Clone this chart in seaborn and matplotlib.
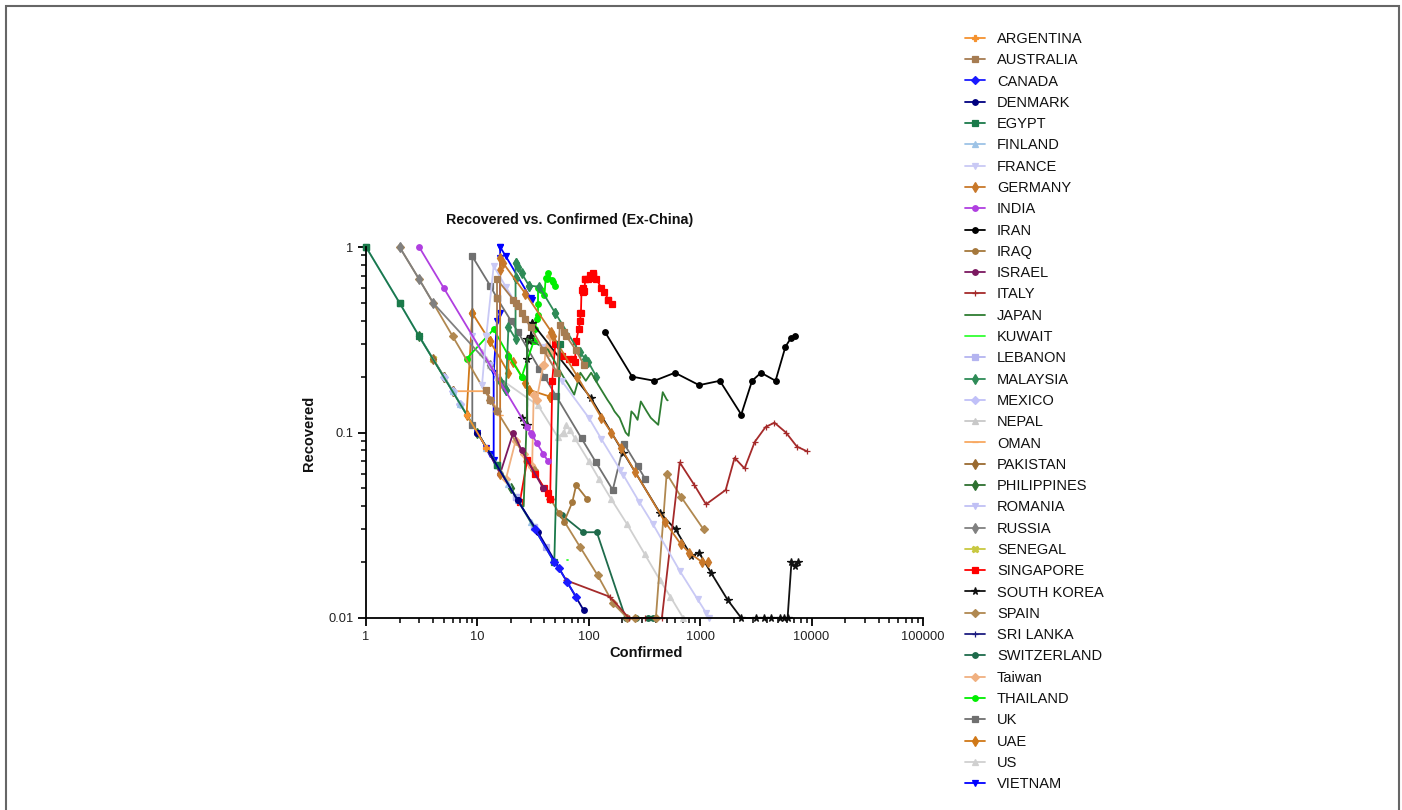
import numpy as np
import pandas as pd
import matplotlib
matplotlib.use("Agg")
import matplotlib.pyplot as plt
import seaborn as sns
from matplotlib.lines import Line2D
from matplotlib.patches import Rectangle
from matplotlib.ticker import FixedLocator, FixedFormatter, LogLocator, NullFormatter

# ---------------- data (Confirmed, Recovered ratio) ----------------
argentina_conf = [8, 12]
argentina_rec = [0.125, 0.083]
australia_conf = [12, 13, 15, 15, 15, 21, 22, 23, 25, 27, 30, 39, 52, 55, 60, 63, 76, 91]
australia_rec = [0.17, 0.15, 0.13, 0.53, 0.67, 0.52, 0.5, 0.48, 0.44, 0.41, 0.37, 0.28, 0.21, 0.38, 0.35, 0.33, 0.28, 0.23]
canada_conf = [33, 49, 54, 64, 77]
canada_rec = [0.03, 0.02, 0.0185, 0.0156, 0.013]
denmark_conf = [10, 10, 23, 23, 35, 90]
denmark_rec = [0.1, 0.1, 0.043, 0.043, 0.029, 0.011]
egypt_conf = [1, 1, 2, 2, 3, 15, 15, 49, 55]
egypt_rec = [1, 1, 0.5, 0.5, 0.33, 0.067, 0.067, 0.02, 0.3]
finland_conf = [1, 2, 3, 6, 7, 12, 15, 19, 23, 30]
finland_rec = [1, 0.5, 0.33, 0.167, 0.143, 0.083, 0.067, 0.053, 0.043, 0.033]
france_conf = [11, 12, 12, 12, 14, 18, 38, 57, 100, 130, 191, 204, 285, 377, 653, 949, 1126, 1209]
france_rec = [0.18, 0.33, 0.33, 0.33, 0.79, 0.61, 0.29, 0.19, 0.12, 0.092, 0.063, 0.059, 0.042, 0.032, 0.018, 0.0126, 0.0107, 0.0099]
germany_conf = [16, 16, 16, 17, 27, 46, 48, 79, 130, 159, 196, 262, 482, 670, 799, 1040, 1176]
germany_rec = [0.06, 0.75, 0.875, 0.82, 0.56, 0.35, 0.33, 0.2, 0.12, 0.1, 0.082, 0.061, 0.033, 0.025, 0.0225, 0.02, 0.02]
india_conf = [3, 5, 28, 30, 31, 34, 39, 43]
india_rec = [1, 0.6, 0.107, 0.1, 0.097, 0.088, 0.077, 0.07]
iran_conf = [139, 245, 388, 593, 978, 1501, 2336, 2922, 3513, 4747, 5823, 6566, 7161]
iran_rec = [0.35, 0.2, 0.19, 0.21, 0.18, 0.19, 0.125, 0.19, 0.21, 0.19, 0.29, 0.325, 0.33]
iraq_conf = [54, 60, 71, 77, 96]
iraq_rec = [0.037, 0.033, 0.042, 0.052, 0.044]
israel_conf = [10, 12, 16, 21, 25, 39, 39]
israel_rec = [0.1, 0.083, 0.06, 0.1, 0.08, 0.05, 0.05]
italy_conf = [62, 155, 229, 322, 453, 655, 888, 1128, 1694, 2036, 2502, 3089, 3858, 4636, 5883, 7375, 9172]
italy_rec = [0.016, 0.013, 0.0044, 0.0031, 0.0066, 0.069, 0.052, 0.041, 0.049, 0.073, 0.064, 0.089, 0.107, 0.113, 0.1, 0.084, 0.079]
japan_conf = [20, 22, 25, 25, 26, 28, 28, 43, 59, 66, 74, 84, 94, 105, 122, 147, 159, 170, 189, 214, 228, 241, 256, 274, 293, 331, 360, 420, 461, 502, 511]
japan_rec = [0.05, 0.045, 0.04, 0.04, 0.04, 0.14, 0.32, 0.28, 0.2, 0.18, 0.16, 0.21, 0.19, 0.21, 0.18, 0.15, 0.14, 0.13, 0.12, 0.1, 0.096, 0.13, 0.125, 0.117, 0.147, 0.13, 0.12, 0.11, 0.165, 0.15, 0.149]
kuwait_conf = [64, 65]
kuwait_rec = [0.0205, 0.0205]
lebanon_conf = [22, 22, 32, 32, 41]
lebanon_rec = [0.045, 0.045, 0.031, 0.031, 0.024]
malaysia_conf = [16, 18, 18, 19, 22, 22, 22, 22, 22, 23, 25, 29, 29, 36, 50, 50, 83, 93, 99, 117]
malaysia_rec = [0.19, 0.17, 0.17, 0.37, 0.32, 0.68, 0.68, 0.82, 0.82, 0.78, 0.72, 0.62, 0.62, 0.61, 0.44, 0.44, 0.27, 0.25, 0.24, 0.2]
mexico_conf = [5, 6, 7, 7]
mexico_rec = [0.2, 0.167, 0.143, 0.143]
nepal_conf = [1, 1]
nepal_rec = [1, 1]
oman_conf = [6, 6, 12, 15, 16, 16]
oman_rec = [0.167, 0.167, 0.167, 0.133, 0.125, 0.125]
pakistan_conf = [4, 5, 6, 6]
pakistan_rec = [0.25, 0.2, 0.167, 0.167]
philippines_conf = [3, 5, 10, 20]
philippines_rec = [0.33, 0.2, 0.1, 0.05]
romania_conf = [9, 13, 15, 15]
romania_rec = [0.33, 0.23, 0.2, 0.2]
russia_conf = [2, 3, 4, 13, 17, 17]
russia_rec = [1, 0.67, 0.5, 0.23, 0.18, 0.18]
senegal_conf = [4, 4]
senegal_rec = [0.25, 0.25]
singapore_conf = [24, 28, 33, 40, 43, 45, 47, 50, 58, 67, 72, 75, 77, 81, 84, 84, 85, 86, 89, 89, 91, 93, 93, 98, 102, 106, 108, 110, 110, 117, 130, 138, 150, 150, 160]
singapore_rec = [0.042, 0.071, 0.06, 0.05, 0.047, 0.044, 0.19, 0.3, 0.26, 0.25, 0.25, 0.24, 0.31, 0.36, 0.4, 0.44, 0.44, 0.59, 0.57, 0.6, 0.58, 0.67, 0.67, 0.67, 0.71, 0.68, 0.72, 0.71, 0.71, 0.67, 0.6, 0.57, 0.52, 0.52, 0.49]
skorea_conf = [25, 27, 28, 28, 28, 29, 30, 31, 31, 104, 204, 433, 602, 833, 977, 1261, 1766, 2337, 3150, 3736, 4335, 5186, 5621, 6088, 6593, 7041, 7478]
skorea_rec = [0.12, 0.11, 0.11, 0.25, 0.32, 0.31, 0.33, 0.39, 0.39, 0.154, 0.078, 0.037, 0.03, 0.0216, 0.0225, 0.0174, 0.0125, 0.0094, 0.0086, 0.008, 0.0069, 0.0058, 0.0073, 0.0067, 0.02, 0.019, 0.02]
spain_conf = [2, 3, 4, 6, 13, 15, 32, 45, 84, 120, 165, 222, 259, 400, 500, 673, 1073]
spain_rec = [1, 0.67, 0.5, 0.33, 0.15, 0.13, 0.0625, 0.044, 0.024, 0.017, 0.012, 0.009, 0.0077, 0.005, 0.06, 0.045, 0.03]
srilanka_conf = [1, 1]
srilanka_rec = [1, 1]
switzerland_conf = [57, 89, 118, 214, 268, 337, 374]
switzerland_rec = [0.036, 0.029, 0.029, 0.0093, 0.0075, 0.006, 0.0053]
taiwan_conf = [18, 22, 22, 26, 28, 30, 31, 32, 32, 34, 39, 40, 41, 42, 42, 44, 45, 45, 45, 45]
taiwan_rec = [0.056, 0.09, 0.09, 0.077, 0.07, 0.067, 0.065, 0.16, 0.16, 0.15, 0.23, 0.23, 0.29, 0.29, 0.29, 0.27, 0.27, 0.27, 0.33, 0.33]
thailand_conf = [8, 14, 19, 19, 25, 25, 32, 32, 33, 34, 35, 35, 35, 37, 40, 41, 42, 43, 47, 48, 50]
thailand_rec = [0.25, 0.36, 0.26, 0.26, 0.2, 0.2, 0.31, 0.31, 0.36, 0.41, 0.43, 0.49, 0.6, 0.59, 0.55, 0.68, 0.67, 0.72, 0.66, 0.65, 0.62]
uk_conf = [9, 9, 13, 15, 20, 23, 36, 40, 51, 86, 116, 164, 207, 274, 322]
uk_rec = [0.11, 0.89, 0.62, 0.53, 0.4, 0.35, 0.22, 0.2, 0.157, 0.093, 0.069, 0.049, 0.087, 0.066, 0.056]
uae_conf = [8, 9, 9, 13, 13, 19, 19, 21, 27, 29, 45, 45]
uae_rec = [0.125, 0.44, 0.44, 0.31, 0.31, 0.21, 0.26, 0.24, 0.185, 0.17, 0.156, 0.156]
us_conf = [11, 12, 13, 13, 15, 15, 35, 53, 59, 60, 62, 68, 75, 100, 124, 158, 221, 319, 435, 541, 704]
us_rec = [0.27, 0.25, 0.23, 0.23, 0.2, 0.2, 0.14, 0.094, 0.1, 0.1, 0.11, 0.103, 0.093, 0.07, 0.056, 0.044, 0.032, 0.022, 0.016, 0.013, 0.0099]
vietnam_conf = [10, 12, 13, 14, 14, 15, 16, 16, 16, 16, 18, 30, 31]
vietnam_rec = [0.1, 0.083, 0.077, 0.071, 0.21, 0.4, 0.44, 0.875, 1, 1, 0.89, 0.53, 0.52]

countries = ["ARGENTINA", "AUSTRALIA", "CANADA", "DENMARK", "EGYPT", "FINLAND", "FRANCE",
             "GERMANY", "INDIA", "IRAN", "IRAQ", "ISRAEL", "ITALY", "JAPAN", "KUWAIT",
             "LEBANON", "MALAYSIA", "MEXICO", "NEPAL", "OMAN", "PAKISTAN", "PHILIPPINES",
             "ROMANIA", "RUSSIA", "SENEGAL", "SINGAPORE", "SOUTH KOREA", "SPAIN",
             "SRI LANKA", "SWITZERLAND", "Taiwan", "THAILAND", "UK", "UAE", "US", "VIETNAM"]
confirmed = [argentina_conf, australia_conf, canada_conf, denmark_conf, egypt_conf, finland_conf,
             france_conf, germany_conf, india_conf, iran_conf, iraq_conf, israel_conf, italy_conf,
             japan_conf, kuwait_conf, lebanon_conf, malaysia_conf, mexico_conf, nepal_conf,
             oman_conf, pakistan_conf, philippines_conf, romania_conf, russia_conf, senegal_conf,
             singapore_conf, skorea_conf, spain_conf, srilanka_conf, switzerland_conf, taiwan_conf,
             thailand_conf, uk_conf, uae_conf, us_conf, vietnam_conf]
recovered = [argentina_rec, australia_rec, canada_rec, denmark_rec, egypt_rec, finland_rec,
             france_rec, germany_rec, india_rec, iran_rec, iraq_rec, israel_rec, italy_rec,
             japan_rec, kuwait_rec, lebanon_rec, malaysia_rec, mexico_rec, nepal_rec,
             oman_rec, pakistan_rec, philippines_rec, romania_rec, russia_rec, senegal_rec,
             singapore_rec, skorea_rec, spain_rec, srilanka_rec, switzerland_rec, taiwan_rec,
             thailand_rec, uk_rec, uae_rec, us_rec, vietnam_rec]

colors = ["#F5922F", "#A67C52", "#1A1AFF", "#000080", "#1A7A4A", "#9DC3E6", "#C9C9F5",
          "#C8782A", "#B03FE0", "#000000", "#A5783C", "#7B1860", "#A52A2A", "#2E7D32",
          "#33FF33", "#B4B4F0", "#2E8B57", "#C0C0F8", "#C8C8C8", "#F8A860", "#9A6A30",
          "#2E7030", "#C0C0F5", "#808080", "#C8C840", "#FF0000", "#111111", "#B08850",
          "#1C1C80", "#1E6B4B", "#F0B080", "#00EE00", "#707070", "#D07818", "#D0D0D0",
          "#0000FF"]
markers = ["P", "s", "D", "o", "s", "^", "v", "d", "o", "o", "o", "o", "+", "", "", "s",
           "d", "D", "^", "_", "d", "d", "v", "d", "X", "s", "*", "D", "+", "o", "D", "o",
           "s", "d", "^", "v"]


def msize(m):
    if m in ("s", "o"):
        return 4.0
    if m == "D":
        return 3.6
    if m == "*":
        return 5.5
    return 4.6


# ---------------- style ----------------
sns.set_theme(style="ticks")
plt.rcParams["font.family"] = ["Liberation Sans", "DejaVu Sans"]
plt.rcParams["axes.linewidth"] = 1.3

W, H = 1402, 810
fig = plt.figure(figsize=(W / 100, H / 100), dpi=100)
fig.patch.set_facecolor("white")
ax = fig.add_axes([366 / W, (H - 618) / H, (923 - 366) / W, (618 - 247) / H])
ax.set_facecolor("white")

# draw in reverse order so the earlier legend entries sit on top
for name, xs, ys, c, m in list(zip(countries, confirmed, recovered, colors, markers))[::-1]:
    df = pd.DataFrame({"Confirmed": xs, "Recovered": np.maximum(np.array(ys, float), 0.01)})
    sns.lineplot(data=df, x="Confirmed", y="Recovered", sort=False, estimator=None,
                 color=c, marker=m if m else None, markersize=msize(m), markeredgecolor=c,
                 markeredgewidth=0.9, linewidth=1.3, ax=ax, legend=False, clip_on=False)

ax.set_xscale("log")
ax.set_yscale("log")
ax.set_xlim(1, 1e5)
ax.set_ylim(0.01, 1)
sns.despine(ax=ax)
for s in ("left", "bottom"):
    ax.spines[s].set_color("black")
    ax.spines[s].set_linewidth(1.3)

xt = [1, 10, 100, 1000, 10000, 100000]
yt = [0.01, 0.1, 1]
ax.xaxis.set_major_locator(FixedLocator(xt))
ax.xaxis.set_major_formatter(FixedFormatter(["1", "10", "100", "1000", "10000", "100000"]))
ax.yaxis.set_major_locator(FixedLocator(yt))
ax.yaxis.set_major_formatter(FixedFormatter(["0.01", "0.1", "1"]))
ax.xaxis.set_minor_locator(LogLocator(base=10, subs=np.arange(2, 10), numticks=20))
ax.yaxis.set_minor_locator(LogLocator(base=10, subs=np.arange(2, 10), numticks=20))
ax.xaxis.set_minor_formatter(NullFormatter())
ax.yaxis.set_minor_formatter(NullFormatter())
ax.tick_params(which="major", direction="out", length=6, width=1.3, color="black",
               labelsize=9.3, labelcolor="#222222", pad=3)
ax.tick_params(which="minor", direction="out", length=3.5, width=1.1, color="black")
ax.set_xlabel("")
ax.set_ylabel("")

fig.text(570 / W, 1 - 220 / H, "Recovered vs. Confirmed (Ex-China)", ha="center", va="center",
         fontsize=10.3, fontweight="bold", color="#111111")
fig.text(646 / W, 1 - 653 / H, "Confirmed", ha="center", va="center",
         fontsize=10.5, fontweight="bold", color="#111111")
fig.text(309 / W, 1 - 433 / H, "Recovered", ha="center", va="center", rotation=90,
         fontsize=10.5, fontweight="bold", color="#111111")

handles = []
for c, m in zip(colors, markers):
    handles.append(Line2D([], [], color=c, marker=m if m else None, markersize=msize(m),
                          markeredgecolor=c, markeredgewidth=0.9, linewidth=1.3))
fig.legend(handles, countries, loc="upper left", bbox_to_anchor=(965 / W, 1 - 32 / H),
           bbox_transform=fig.transFigure, frameon=False, fontsize=10.5,
           handlelength=1.4, handletextpad=0.8, labelspacing=0.5, borderpad=0,
           borderaxespad=0, labelcolor="#111111")

fig.patches.append(Rectangle((5.5 / W, -0.05), (1398.5 - 5.5) / W, 1.05 - 5.5 / H,
                             transform=fig.transFigure, fill=False, edgecolor="#666666",
                             linewidth=1.5))

fig.savefig("out.png", dpi=100)
